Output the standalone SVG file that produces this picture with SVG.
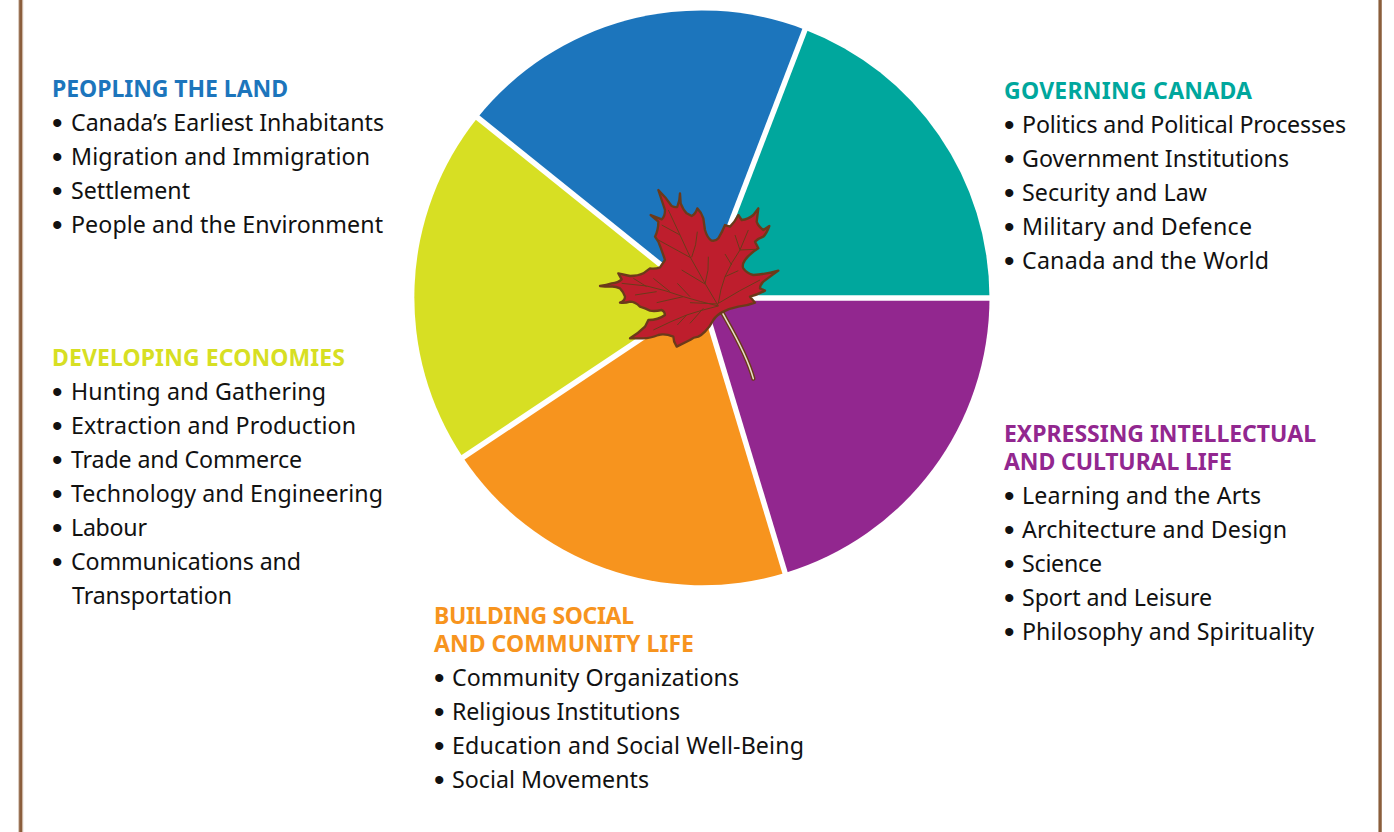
<svg xmlns="http://www.w3.org/2000/svg" width="1394" height="832" viewBox="0 0 1394 832">
<style>
text{font-family:"Noto Sans","Open Sans",sans-serif;font-size:23.2px;fill:#111;white-space:pre}
.h{font-weight:700;font-size:23px}
.b{font-family:"Liberation Sans",Arial,sans-serif;font-size:30px}
.sep{stroke:#fff;stroke-width:5.5;fill:none}
.vein{fill:none;stroke:#6b3a1a;stroke-width:3}
</style>
<rect width="1394" height="832" fill="#fff"/>
<g id="frame"><rect x="18" y="0" width="5.300" height="832" fill="#dccdc1"/><rect x="19.200" y="0" width="3" height="832" fill="#8b5e3c"/><rect x="1378.300" y="0" width="3.600" height="832" fill="#a98a70"/><rect x="1378.900" y="0" width="2.400" height="832" fill="#8b5e3c"/></g>
<g id="pie">
<path id="wedge-governing" fill="#00a79d" d="M702 298L989.500 298A287.500 287.500 0 0 0 805 29.700Z"/>
<path id="wedge-peopling" fill="#1c75bc" d="M702 298L805 29.700A287.500 287.500 0 0 0 477.500 117.700Z"/>
<path id="wedge-economies" fill="#d7df23" d="M702 298L477.500 117.700A287.500 287.500 0 0 0 463 457.500Z"/>
<path id="wedge-social" fill="#f7941e" d="M702 298L463 457.500A287.500 287.500 0 0 0 785 573Z"/>
<path id="wedge-intellectual" fill="#92278f" d="M702 298L785 573A287.500 287.500 0 0 0 989.500 298Z"/>
<g class="sep"><path d="M702 298H992"/><path d="M702 298L806 27"/><path d="M702 298L475 115.500"/><path d="M702 298L460.500 459"/><path d="M702 298L786 576"/></g>
</g>
<g id="leaf" transform="translate(590 180) scale(.33333)">
<path d="M395 395C420 440 470 520 490 596" fill="none" stroke="#6b3a1a" stroke-width="13" stroke-linecap="round"/>
<path d="M395 395C420 440 470 520 490 596" fill="none" stroke="#e8e0c8" stroke-width="4.500" stroke-linecap="round"/>
<path fill="#be1e2d" stroke="#6b3a1a" stroke-width="7" stroke-linejoin="round" d="M205 30L228 55L245 78Q258 84 262 80Q270 60 270 40L272 70Q280 90 290 100L305 108Q318 100 322 85Q335 98 340 115L345 150Q352 175 365 182Q378 184 385 175Q397 155 405 135L420 140Q435 125 445 105L455 120Q475 118 490 105L505 85L500 125Q505 140 520 150L538 138Q530 160 520 170Q505 175 495 185L505 205Q480 220 465 240Q455 255 460 265Q470 280 490 285Q530 282 565 272Q540 290 520 305Q510 315 510 325L525 332Q500 345 480 350L495 368Q470 378 445 380Q420 385 400 395Q380 405 370 420Q360 440 345 455Q335 465 325 470Q310 472 300 480Q280 490 260 500Q250 485 250 470Q225 460 205 465Q180 475 160 475Q140 475 120 475Q145 460 165 440L175 420Q205 420 225 405Q225 395 215 390Q195 395 180 392Q165 385 150 380Q135 365 120 365Q105 370 90 368Q105 362 105 350Q100 335 90 325Q75 318 60 320Q45 320 30 318Q50 315 65 310Q85 308 95 298L85 280L120 288Q145 288 160 280L180 265Q195 268 210 262L225 240Q215 210 205 185L195 170Q205 150 205 125L182 105L215 118Q225 110 225 90Q215 60 205 30Z"/>
<g class="vein">
<path d="M385 378L345 310L300 230L270 165L235 90"/><path d="M300 232L205 180"/><path d="M270 165L215 135"/><path d="M305 232Q320 195 322 155"/><path d="M345 312L275 270"/><path d="M345 312Q358 270 355 230"/>
<path d="M385 370Q390 330 405 290Q425 245 450 210L475 150"/><path d="M450 210L495 208"/><path d="M450 210L435 165"/><path d="M425 255L405 222"/><path d="M405 290L445 272"/><path d="M385 370Q450 330 510 300"/>
<path d="M385 378Q330 365 280 350Q225 330 170 318L95 310"/><path d="M280 350L200 368"/><path d="M300 350L262 310"/><path d="M240 335L190 295"/><path d="M170 320L130 295"/><path d="M200 335L135 345"/><path d="M385 372L300 368"/>
<path d="M385 378Q335 390 290 405Q240 425 190 450"/><path d="M340 385L300 430"/><path d="M290 405L262 435"/>
</g>
</g>
<g id="peopling">
<text class="h" x="52" y="97" textLength="236" style="fill:#1c75bc">PEOPLING THE LAND</text>
<text class="b" x="52" y="133">•</text><text x="71" y="131" textLength="313">Canada’s Earliest Inhabitants</text>
<text class="b" x="52" y="167">•</text><text x="71" y="165" textLength="299">Migration and Immigration</text>
<text class="b" x="52" y="201">•</text><text x="71" y="199" textLength="119">Settlement</text>
<text class="b" x="52" y="235">•</text><text x="71" y="233" textLength="312">People and the Environment</text>
</g>
<g id="governing">
<text class="h" x="1004" y="99" textLength="248" style="fill:#00a79d">GOVERNING CANADA</text>
<text class="b" x="1004" y="135">•</text><text x="1022" y="133" textLength="324">Politics and Political Processes</text>
<text class="b" x="1004" y="169">•</text><text x="1022" y="167" textLength="267">Government Institutions</text>
<text class="b" x="1004" y="203">•</text><text x="1022" y="201" textLength="185">Security and Law</text>
<text class="b" x="1004" y="237">•</text><text x="1022" y="235" textLength="230">Military and Defence</text>
<text class="b" x="1004" y="271">•</text><text x="1022" y="269" textLength="247">Canada and the World</text>
</g>
<g id="economies">
<text class="h" x="52" y="366" textLength="293" style="fill:#d7df23">DEVELOPING ECONOMIES</text>
<text class="b" x="52" y="402">•</text><text x="71" y="400" textLength="255">Hunting and Gathering</text>
<text class="b" x="52" y="436">•</text><text x="71" y="434" textLength="285">Extraction and Production</text>
<text class="b" x="52" y="470">•</text><text x="71" y="468" textLength="231">Trade and Commerce</text>
<text class="b" x="52" y="504">•</text><text x="71" y="502" textLength="312">Technology and Engineering</text>
<text class="b" x="52" y="538">•</text><text x="71" y="536" textLength="76">Labour</text>
<text class="b" x="52" y="572">•</text><text x="71" y="570" textLength="230">Communications and</text>
<text x="72" y="604" textLength="160">Transportation</text>
</g>
<g id="intellectual">
<text class="h" x="1004" y="442" textLength="312" style="fill:#92278f">EXPRESSING INTELLECTUAL</text>
<text class="h" x="1004" y="470" textLength="228" style="fill:#92278f">AND CULTURAL LIFE</text>
<text class="b" x="1004" y="506">•</text><text x="1022" y="504" textLength="239">Learning and the Arts</text>
<text class="b" x="1004" y="540">•</text><text x="1022" y="538" textLength="265">Architecture and Design</text>
<text class="b" x="1004" y="574">•</text><text x="1022" y="572" textLength="80">Science</text>
<text class="b" x="1004" y="608">•</text><text x="1022" y="606" textLength="190">Sport and Leisure</text>
<text class="b" x="1004" y="642">•</text><text x="1022" y="640" textLength="292">Philosophy and Spirituality</text>
</g>
<g id="social">
<text class="h" x="434" y="624" textLength="200" style="fill:#f7941e">BUILDING SOCIAL</text>
<text class="h" x="434" y="652" textLength="260" style="fill:#f7941e">AND COMMUNITY LIFE</text>
<text class="b" x="434" y="688">•</text><text x="452" y="686" textLength="287">Community Organizations</text>
<text class="b" x="434" y="722">•</text><text x="452" y="720" textLength="228">Religious Institutions</text>
<text class="b" x="434" y="756">•</text><text x="452" y="754" textLength="352">Education and Social Well-Being</text>
<text class="b" x="434" y="790">•</text><text x="452" y="788" textLength="197">Social Movements</text>
</g>
</svg>
